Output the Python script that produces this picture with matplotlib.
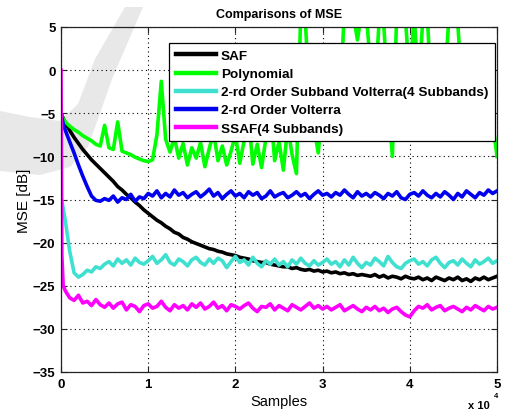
import numpy as np
import matplotlib
matplotlib.use('Agg')
import matplotlib.pyplot as plt
from matplotlib.patches import Polygon
from matplotlib.ticker import FuncFormatter

# ---------------- data ----------------
samples = np.concatenate([[0, 100, 250], np.arange(500, 50001, 500)])

saf = [-5.0, -5.2, -5.6,
       -6.1, -7.0, -7.8, -8.5, -9.2, -9.8, -10.4, -10.9, -11.4, -11.9,
       -12.4, -12.9, -13.5, -13.9, -14.4, -14.8, -15.3, -15.7, -16.2, -16.6,
       -17.0, -17.4, -17.7, -18.1, -18.4, -18.8, -19.0, -19.4, -19.6, -19.9,
       -20.1, -20.3, -20.5, -20.7, -20.8, -21.0, -21.1, -21.3, -21.4, -21.5,
       -21.7, -21.8, -21.9, -22.1, -22.2, -22.3, -22.3, -22.5, -22.6, -22.7,
       -22.8, -22.8, -23.0, -22.9, -23.1, -23.2, -23.1, -23.3, -23.2, -23.4,
       -23.3, -23.5, -23.4, -23.6, -23.5, -23.7, -23.6, -23.8, -23.7, -23.8,
       -23.9, -23.7, -24.0, -23.8, -24.1, -23.9, -24.0, -24.2, -23.9, -24.1,
       -24.2, -24.0, -24.3, -24.1, -24.4, -24.0, -24.2, -24.4, -24.1, -24.3,
       -24.0, -24.4, -24.2, -24.5, -24.1, -24.3, -24.0, -24.3, -24.1, -23.9]

polynomial = [-5.0, -5.3, -5.7,
              -6.0, -6.5, -6.9, -7.2, -7.6, -7.9, -8.2, -8.6, -8.8, -6.4,
              -9.0, -9.2, -6.0, -9.4, -9.6, -9.8, -10.1, -10.3, -10.5, -10.6,
              -10.4, -7.5, -1.3, -8.0, -9.5, -7.8, -10.2, -8.5, -11.0, -9.0,
              -10.2, -8.4, -11.2, -9.1, -7.2, -10.5, -8.8, -11.0, -9.4, -7.5,
              -10.8, -8.2, -5.5, -10.9, -8.6, -11.3, -7.9, -4.0, -10.5, -8.3,
              -11.6, -6.5, -9.8, -12.0, 7.0, 6.0, -3.0, -6.5, -9.6, -4.0,
              -2.0, -5.0, -1.0, -3.5, 7.0, 7.5, 6.5, 3.5, 7.0, 6.5,
              0.5, -2.5, 6.0, 5.5, -3.0, -10.0, 6.5, 7.0, 6.0, -1.5,
              6.5, -2.0, 6.0, 6.5, -3.5, -1.0, -4.0, -2.0, 6.5, 7.0,
              5.5, -2.5, -4.5, -1.5, -3.0, -5.0, -2.0, -4.0, -6.0, -10.0]

subband_volterra = [-14.8, -15.2, -16.0,
                    -17.5, -21.0, -23.5, -24.0, -23.7, -23.2, -23.4, -22.8, -23.0, -22.5,
                    -22.2, -22.7, -21.9, -22.4, -22.0, -22.6, -21.8, -22.3, -22.5, -22.1,
                    -21.6, -22.4, -22.0, -21.4, -22.3, -22.6, -21.9, -22.2, -22.7, -22.0,
                    -21.7, -22.3, -22.6, -21.9, -22.4, -21.8, -22.1, -22.9, -22.2, -21.6,
                    -22.3, -22.0, -22.6, -21.7, -22.4, -22.8, -22.1, -22.5, -21.9, -22.6,
                    -22.2, -22.8, -22.0, -22.5, -21.8, -22.4, -22.7, -22.1, -22.6, -22.3,
                    -21.9, -22.5, -22.2, -22.8, -22.0, -22.6, -21.7, -22.4, -22.9, -22.3,
                    -22.6, -21.8, -22.2, -22.7, -21.6, -22.3, -22.8, -23.0, -22.4, -22.1,
                    -21.9, -22.5, -22.2, -22.7, -22.0, -21.7, -22.4, -22.9, -22.3, -22.1,
                    -22.6, -21.9, -22.4, -22.8, -22.0, -22.5, -22.2, -21.8, -22.4, -22.1]

volterra = [-5.0, -5.5, -6.2,
            -7.0, -8.3, -9.6, -11.0, -12.3, -13.5, -14.6, -15.1, -15.2, -14.9,
            -15.1, -14.6, -15.3, -14.8, -15.0, -14.4, -15.2, -14.7, -14.9, -14.3,
            -14.6, -14.0, -14.8, -14.3, -14.7, -13.9, -14.5, -14.2, -14.8, -14.4,
            -14.1, -14.7, -14.3, -13.8, -14.6, -14.2, -14.9, -14.4, -14.0, -14.6,
            -14.3, -14.8, -14.1, -14.5, -14.2, -14.9, -14.6, -14.0, -14.7, -14.4,
            -14.2, -14.8, -14.5, -14.1, -14.6, -14.3, -14.9, -14.4, -14.0, -14.5,
            -14.3, -14.7, -14.2, -14.5, -13.9, -14.4, -14.8, -14.1, -14.6, -14.3,
            -14.7, -14.2, -14.5, -14.9, -14.3, -14.6, -14.1, -14.8, -15.0, -14.4,
            -14.2, -14.6, -14.0, -14.5, -14.8, -14.3, -14.7, -14.1, -14.5, -15.0,
            -14.3, -14.7, -14.0, -14.4, -14.8, -14.2, -14.5, -13.9, -14.3, -14.0]

ssaf = [0.0, -21.5, -25.0,
        -25.6, -26.4, -26.7, -26.1, -27.0, -26.8, -27.3, -26.6, -27.2, -27.5,
        -27.0, -27.6, -27.1, -26.9, -27.8, -27.2, -27.4, -28.0, -27.3, -27.1,
        -27.6, -27.4, -26.8, -27.5, -27.9, -27.2, -27.6, -27.3, -27.8, -27.1,
        -27.5, -27.0, -27.7, -27.4, -26.9, -27.6, -27.3, -27.9, -27.2, -27.4,
        -27.7, -27.3, -27.0, -27.6, -28.0, -27.4, -27.5, -27.1, -27.8, -27.3,
        -27.6, -27.9, -27.2, -27.5, -27.8, -27.4, -27.0, -27.6, -27.3, -27.7,
        -27.4, -27.8, -27.5, -27.2, -27.9, -27.6, -27.3, -27.7, -28.0, -27.5,
        -27.8, -27.4, -27.9, -27.6, -28.1, -27.7, -27.5, -28.0, -28.4, -28.6,
        -27.9, -27.4, -27.6, -27.2, -27.8, -27.5, -27.3, -27.9, -27.6, -27.4,
        -27.7, -28.0, -27.5, -27.8, -27.3, -27.6, -27.9, -27.4, -27.7, -27.5]

series_names = ['SAF', 'Polynomial', '2-rd Order Subband Volterra(4 Subbands)',
                '2-rd Order Volterra', 'SSAF(4 Subbands)']
series_colors = ['#000000', '#00FF00', '#40E0D0', '#0000EE', '#FF00FF']
x_tick_values = [0, 10000, 20000, 30000, 40000, 50000]
x_tick_labels = ['0', '1', '2', '3', '4', '5']
y_tick_values = [-35, -30, -25, -20, -15, -10, -5, 0, 5]

# ---------------- figure ----------------
W, H = 505, 414
fig = plt.figure(figsize=(W / 100, H / 100), dpi=100)
fig.patch.set_facecolor('white')

# faint watermark slash (decoration)
wm_px = [(125, 8), (143, 8), (112, 80), (98, 120), (88, 148), (70, 168), (40, 176),
         (0, 172), (0, 112), (30, 118), (60, 122), (78, 105), (95, 60)]
wm = Polygon([(x / W, 1 - y / H) for x, y in wm_px], closed=True,
             transform=fig.transFigure, facecolor='#e8e8e8', edgecolor='none', zorder=-1)
fig.patches.append(wm)

ax = fig.add_axes([61 / W, 1 - 373 / H, 436 / W, 345 / H])
ax.set_facecolor('none')

all_series = [saf, polynomial, subband_volterra, volterra, ssaf]
for vals, name, col in zip(all_series, series_names, series_colors):
    ax.plot(samples, vals, color=col, lw=2.6, label=name)

ax.set_xlim(0, 50000)
ax.set_ylim(-35, 5)
ax.set_xticks(x_tick_values)
ax.xaxis.set_major_formatter(FuncFormatter(
    lambda v, p: x_tick_labels[x_tick_values.index(int(round(v)))] if int(round(v)) in x_tick_values else ''))
ax.set_yticks(y_tick_values)

for lab in ax.get_xticklabels() + ax.get_yticklabels():
    lab.set_fontfamily('Liberation Sans')
    lab.set_fontweight('bold')
    lab.set_fontsize(9.5)

ax.tick_params(direction='in', length=4, width=0.8, top=True, right=True,
               colors='#222222', labelcolor='black', pad=4)
ax.grid(True, color='black', linestyle=(0, (1, 3)), linewidth=0.8)
for sp in ax.spines.values():
    sp.set_linewidth(0.9)
    sp.set_color('#222222')

ax.set_title('Comparisons of MSE', fontfamily='Liberation Sans', fontweight='bold',
             fontsize=9, pad=7)
ax.set_xlabel('Samples', fontfamily='Liberation Sans', fontsize=10.5, labelpad=3)
ax.set_ylabel('MSE [dB]', fontfamily='Liberation Sans', fontsize=11, labelpad=1)

fig.text(468 / W, 1 - 406 / H, 'x 10', fontfamily='Liberation Sans', fontweight='bold',
         fontsize=8, va='center', ha='left')
fig.text(494 / W, 1 - 397 / H, '4', fontfamily='Liberation Sans', fontweight='bold',
         fontsize=5.5, va='center', ha='left')

leg = ax.legend(loc='upper left', bbox_to_anchor=(169 / W, 1 - 44 / H),
                bbox_transform=fig.transFigure, borderaxespad=0,
                prop=dict(family='Liberation Sans', weight='bold', size=9.7),
                handlelength=3.0, handletextpad=0.35, labelspacing=0.42,
                borderpad=0.5, fancybox=False, framealpha=1, edgecolor='black')
leg.get_frame().set_linewidth(0.9)
for line in leg.get_lines():
    line.set_linewidth(3.2)

fig.savefig('out.png', dpi=100)
